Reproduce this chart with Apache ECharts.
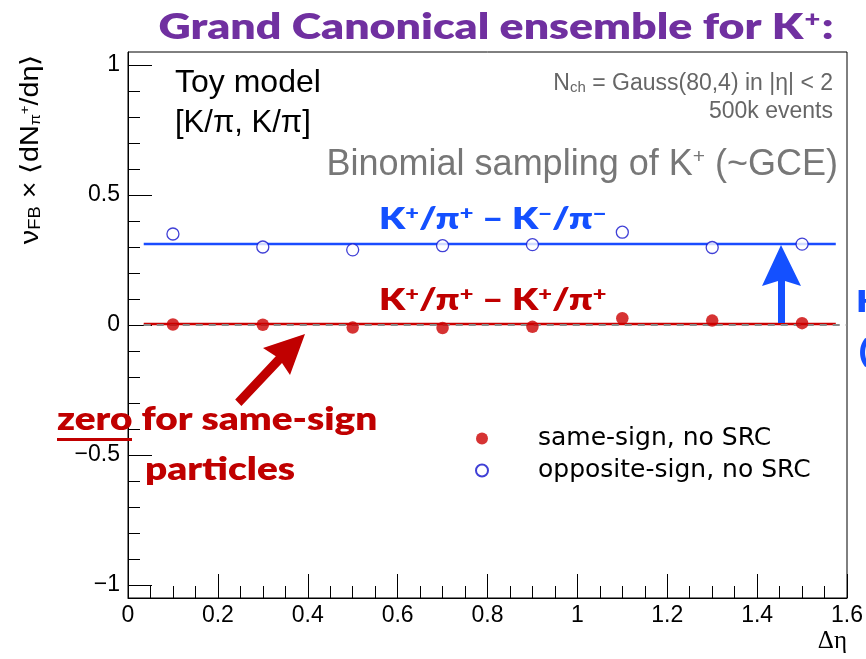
<!DOCTYPE html>
<html>
<head>
<meta charset="utf-8">
<script src="https://cdn.jsdelivr.net/npm/echarts@6/dist/echarts.min.js"></script>
<style>
  html, body { margin: 0; padding: 0; background: #ffffff; }
  #chart { width: 866px; height: 659px; }
</style>
</head>
<body>
<div id="chart"></div>
<script>
// Forward-backward correlation vs. Δη, toy model with binomial K+ sampling
const etaBins = [0.1, 0.3, 0.5, 0.7, 0.9, 1.1, 1.3, 1.5];
const sameSign = [0.002, 0.001, -0.010, -0.012, -0.007, 0.026, 0.017, 0.007];
const oppositeSign = [0.350, 0.300, 0.289, 0.305, 0.309, 0.357, 0.298, 0.311];
const fitRange = [0.035, 1.575];
const sameSignFit = 0.004;
const oppositeSignFit = 0.312;
const zeroLineRange = [0.035, 1.6];
const yMajorTicks = [-1, -0.5, 0, 0.5, 1];
const yMinorTicks = [-1, -0.9, -0.8, -0.7, -0.6, -0.5, -0.4, -0.3, -0.2, -0.1, 0,
                     0.1, 0.2, 0.3, 0.4, 0.5, 0.6, 0.7, 0.8, 0.9, 1];
const yRange = [-1.05, 1.05];
const xRange = [0, 1.6];

const RED = '#c00000';
const BLUE_TXT = '#1450ff';
const HELV = '"Liberation Sans", Arial, sans-serif';
const CAL = 'Lato, "Open Sans", sans-serif';
const HEAVY = 800;
const WIDE = 1.24;   // horizontal stretch for the bold slide captions

const chart = echarts.init(document.getElementById('chart'), null, { renderer: 'canvas' });

function fmtY(v) {
  const s = String(Math.abs(v));
  return v < 0 ? '\u2212' + s : s;
}

const option = {
  backgroundColor: '#ffffff',
  animation: false,
  grid: {
    left: 128, right: 17, top: 52, bottom: 61,
    show: true, borderColor: '#000', borderWidth: 1, backgroundColor: 'transparent'
  },
  xAxis: [{
    type: 'value', min: xRange[0], max: xRange[1], interval: 0.2,
    axisLine: { show: true, onZero: false, lineStyle: { color: '#000', width: 1 } },
    axisTick: { show: true, inside: true, length: 24, lineStyle: { color: '#000', width: 1 } },
    minorTick: { show: true, splitNumber: 4, length: 12, lineStyle: { color: '#000', width: 1 } },
    splitLine: { show: false },
    axisLabel: {
      color: '#000', fontFamily: HELV, fontSize: 23, margin: 6,
      showMinLabel: true, showMaxLabel: true,
      formatter: v => String(Math.round(v * 10) / 10)
    }
  }],
  yAxis: [{
    type: 'value', min: yRange[0], max: yRange[1],
    axisLine: { show: true, onZero: false, lineStyle: { color: '#000', width: 1 } },
    axisTick: { show: true, inside: true, length: 24, customValues: yMajorTicks,
                lineStyle: { color: '#000', width: 1 } },
    splitLine: { show: false },
    axisLabel: {
      color: '#000', fontFamily: HELV, fontSize: 23, margin: 8,
      customValues: yMajorTicks, formatter: fmtY
    }
  }, {
    type: 'value', min: yRange[0], max: yRange[1], position: 'left',
    axisLine: { show: false },
    axisTick: { show: true, inside: true, length: 12, customValues: yMinorTicks,
                lineStyle: { color: '#000', width: 1 } },
    splitLine: { show: false },
    axisLabel: { show: false }
  }],
  legend: {
    orient: 'vertical', left: 470, top: 421,
    itemWidth: 102, itemHeight: 12, itemGap: 7,
    icon: 'circle',
    textStyle: { color: '#000', fontFamily: '"DejaVu Sans", sans-serif', fontSize: 25, lineHeight: 24 },
    data: ['same-sign, no SRC', 'opposite-sign, no SRC']
  },
  series: [
    {
      name: 'same-sign fit', type: 'line', symbol: 'none', silent: true, z: 2,
      data: [[fitRange[0], sameSignFit], [fitRange[1], sameSignFit]],
      lineStyle: { color: '#cc0000', width: 2.5 }
    },
    {
      name: 'opposite-sign fit', type: 'line', symbol: 'none', silent: true, z: 2,
      data: [[fitRange[0], oppositeSignFit], [fitRange[1], oppositeSignFit]],
      lineStyle: { color: '#1a4cff', width: 2.5 }
    },
    {
      name: 'zero', type: 'line', symbol: 'none', silent: true, z: 3,
      data: [[zeroLineRange[0], 0], [zeroLineRange[1], 0]],
      lineStyle: { color: '#8a8a8a', width: 2, type: [7, 6] }
    },
    {
      name: 'same-sign, no SRC', type: 'scatter', z: 5,
      symbol: 'circle', symbolSize: 12.5,
      itemStyle: { color: '#cc0000' },
      data: etaBins.map((x, i) => [x, sameSign[i]])
    },
    {
      name: 'opposite-sign, no SRC', type: 'scatter', z: 5,
      symbol: 'circle', symbolSize: 12,
      itemStyle: { color: '#ffffff', borderColor: '#1010cc', borderWidth: 1.3 },
      data: etaBins.map((x, i) => [x, oppositeSign[i]])
    }
  ],
  graphic: [
    // heading
    { type: 'text', x: 496, y: 27, z: 10, scaleX: WIDE,
      style: { text: '{a|Grand Canonical ensemble for K}{s|+}{a|:}',
        align: 'center', verticalAlign: 'middle',
        rich: {
          a: { fontFamily: CAL, fontWeight: HEAVY, fontSize: 36, fill: '#7030a0' },
          s: { fontFamily: CAL, fontWeight: HEAVY, fontSize: 22, fill: '#7030a0', verticalAlign: 'top', padding: [0, 1, 12, 1] }
        } } },
    // y-axis title
    { type: 'text', x: 31, y: 54, rotation: Math.PI / 2, scaleX: 1.15, z: 10,
      style: { text: '{n|\u03bd}{sub|FB}{n| \u00d7 \u27e8dN}{sub2|\u03c0}{sup|+}{n|/d\u03b7\u27e9}',
        align: 'right', verticalAlign: 'middle',
        rich: {
          n: { fontFamily: HELV, fontSize: 25, fill: '#000' },
          sub: { fontFamily: HELV, fontSize: 16, fill: '#000', verticalAlign: 'bottom' },
          sub2: { fontFamily: HELV, fontSize: 14, fill: '#000', verticalAlign: 'bottom' },
          sup: { fontFamily: HELV, fontSize: 13, fill: '#000', verticalAlign: 'top' }
        } } },
    // x-axis title
    { type: 'text', x: 847, y: 641, z: 10,
      style: { text: '\u0394\u03b7', align: 'right', verticalAlign: 'middle',
        fontFamily: '"Liberation Serif", "DejaVu Serif", serif', fontSize: 25, fill: '#000' } },
    // model description
    { type: 'text', x: 175, y: 83, z: 10,
      style: { text: 'Toy model', align: 'left', verticalAlign: 'middle',
        fontFamily: HELV, fontSize: 32, fill: '#000' } },
    { type: 'text', x: 175, y: 123, z: 10,
      style: { text: '[K/\u03c0, K/\u03c0]', align: 'left', verticalAlign: 'middle',
        fontFamily: HELV, fontSize: 31, fill: '#000' } },
    { type: 'text', x: 833, y: 84, z: 10,
      style: { text: '{t|N}{sub|ch}{t| = Gauss(80,4) in |\u03b7| < 2}',
        align: 'right', verticalAlign: 'middle',
        rich: {
          t: { fontFamily: HELV, fontSize: 23, fill: '#666' },
          sub: { fontFamily: HELV, fontSize: 15, fill: '#666', verticalAlign: 'bottom' }
        } } },
    { type: 'text', x: 833, y: 112, z: 10,
      style: { text: '500k events', align: 'right', verticalAlign: 'middle',
        fontFamily: HELV, fontSize: 23, fill: '#666' } },
    { type: 'text', x: 838, y: 165, z: 10,
      style: { text: '{t|Binomial sampling of K}{s|+}{t| (~GCE)}',
        align: 'right', verticalAlign: 'middle',
        rich: {
          t: { fontFamily: HELV, fontSize: 36, fill: '#777' },
          s: { fontFamily: HELV, fontSize: 21, fill: '#777', verticalAlign: 'top' }
        } } },
    // curve labels
    { type: 'text', x: 379, y: 219, z: 10, scaleX: WIDE,
      style: { text: '{t|K}{s|+}{t|/\u03c0}{s|+}{t| \u2013 K}{s|\u2212}{t|/\u03c0}{s|\u2212}',
        align: 'left', verticalAlign: 'middle',
        rich: {
          t: { fontFamily: CAL, fontWeight: HEAVY, fontSize: 30, fill: BLUE_TXT },
          s: { fontFamily: CAL, fontWeight: HEAVY, fontSize: 19, fill: BLUE_TXT, verticalAlign: 'top' }
        } } },
    { type: 'text', x: 379, y: 300, z: 10, scaleX: WIDE,
      style: { text: '{t|K}{s|+}{t|/\u03c0}{s|+}{t| \u2013 K}{s|+}{t|/\u03c0}{s|+}',
        align: 'left', verticalAlign: 'middle',
        rich: {
          t: { fontFamily: CAL, fontWeight: HEAVY, fontSize: 30, fill: RED },
          s: { fontFamily: CAL, fontWeight: HEAVY, fontSize: 19, fill: RED, verticalAlign: 'top' }
        } } },
    // offset arrow between the two fits
    { type: 'polygon', z: 9,
      shape: { points: [[781, 245], [801, 286], [785, 281], [785, 323], [778, 323], [778, 281], [762, 286]] },
      style: { fill: '#1450ff' } },
    // pointer to the same-sign fit
    { type: 'polygon', z: 9,
      shape: { points: [[305, 334], [263, 348], [275.8, 356.3], [235.2, 399.4], [241.4, 406], [282, 362.9], [290, 375]] },
      style: { fill: RED } },
    { type: 'text', x: 57, y: 420, z: 10, scaleX: 1.21,
      style: { text: 'zero for same-sign', align: 'left', verticalAlign: 'middle',
        fontFamily: CAL, fontWeight: HEAVY, fontSize: 32, fill: RED } },
    { type: 'rect', z: 10, shape: { x: 57, y: 438, width: 75, height: 3 }, style: { fill: RED } },
    { type: 'text', x: 145, y: 470, z: 10, scaleX: 1.21,
      style: { text: 'particles', align: 'left', verticalAlign: 'middle',
        fontFamily: CAL, fontWeight: HEAVY, fontSize: 32, fill: RED } },
    // slide text running past the right edge
    { type: 'text', x: 856, y: 302, z: 10, scaleX: WIDE,
      style: { text: 'K', align: 'left', verticalAlign: 'middle',
        fontFamily: CAL, fontWeight: HEAVY, fontSize: 30, fill: BLUE_TXT } },
    { type: 'text', x: 859, y: 352, z: 10, scaleX: WIDE,
      style: { text: '(', align: 'left', verticalAlign: 'middle',
        fontFamily: CAL, fontWeight: HEAVY, fontSize: 30, fill: BLUE_TXT } }
  ]
};

chart.setOption(option);
</script>
</body>
</html>
